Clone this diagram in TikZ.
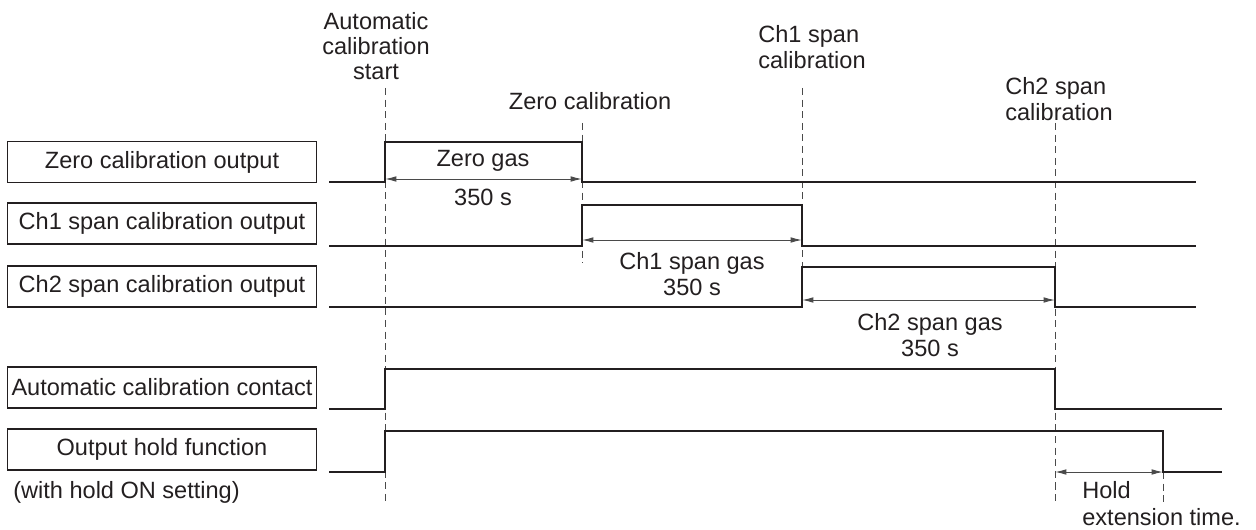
\documentclass[tikz,border=0pt]{standalone}
\usepackage{fontspec}
\setmainfont{Liberation Sans}
\definecolor{tinta}{HTML}{231F20}
\definecolor{guiagris}{HTML}{4A4A4A}
\usetikzlibrary{arrows.meta,positioning}

\begin{document}
\begin{tikzpicture}[x=0.02cm,y=-0.02cm,
    every node/.style={font=\fontsize{13.4}{14.4}\selectfont,text=tinta,inner sep=0pt},
    lbl/.style={draw=tinta,line width=0.6pt,minimum width=6.18cm,minimum height=0.82cm},
    sig/.style={draw=tinta,line width=1.45pt},
    guide/.style={draw=guiagris,line width=0.5pt,dash pattern=on 4pt off 2.6pt},
    span/.style={draw=guiagris,line width=0.55pt,{Latex[length=6.5pt,width=3.2pt]}-{Latex[length=6.5pt,width=3.2pt]}}]
        \useasboundingbox (0,0) rectangle (1256,530);

        % time marks
        \coordinate (t0) at (385,0);
        \coordinate (t1) at (582,0);
        \coordinate (t2) at (802,0);
        \coordinate (t3) at (1055,0);
        \coordinate (t4) at (1163,0);

        % label boxes
        \node[lbl] (zout) at (162,162) {Zero calibration output};
        \node[lbl] (c1out) at (162,223.5) {Ch1 span calibration output};
        \node[lbl] (c2out) at (162,286.5) {Ch2 span calibration output};
        \node[lbl] (acon) at (162,387.5) {Automatic calibration contact};
        \node[lbl] (ohold) at (162,449.5) {Output hold function};
        \node[anchor=west] (holdon) at (13,492) {(with hold ON setting)};

        % dashed guides
        \draw[guide] (t0 |- 0,88) -- (t0 |- 0,503);
        \draw[guide] (t1 |- 0,123) -- (t1 |- 0,263);
        \draw[guide] (t2 |- 0,88) -- (t2 |- 0,307);
        \draw[guide] (t3 |- 0,123) -- (t3 |- 0,503);
        \draw[guide] (t4 |- 0,472) -- (t4 |- 0,503);

        % signals: low/high/rise/fall/end
        \foreach \lo/\hi/\ra/\fb/\en in {182/142/385/582/1196, 246/205/582/802/1196,
            307/267/802/1055/1196, 409/369/385/1055/1222, 472/431/385/1163/1222} {
          \draw[sig,line join=miter] (329,\lo) -- (\ra,\lo) -- (\ra,\hi) -- (\fb,\hi) -- (\fb,\lo) -- (\en,\lo);
        }

        % durations
        \draw[span] (t0 |- 0,179) -- (t1 |- 0,179);
        \draw[span] (t1 |- 0,240) -- (t2 |- 0,240);
        \draw[span] (t2 |- 0,300) -- (t3 |- 0,300);
        \draw[span] (t3 |- 0,472) -- (t4 |- 0,472);

        % event titles
        \node[align=center] (autost) at (376,46) {Automatic\\calibration\\start};
        \node (zcal) at (590,101) {Zero calibration};
        \node[align=left] (c1cal) at (812,47) {Ch1 span\\calibration};
        \node[align=left] (c2cal) at (1059,99) {Ch2 span\\calibration};

        % gas texts
        \node (zgas) at (483,161) {Zero gas};
        \node (zsec) at (483,197) {350 s};
        \node[align=center] (c1gas) at (692,274) {Ch1 span gas\\350 s};
        \node[align=center] (c2gas) at (930,335) {Ch2 span gas\\350 s};
        \node[align=left,anchor=west] (hext) at (1082,504) {Hold\\[1pt]extension time.};
\end{tikzpicture}
\end{document}
